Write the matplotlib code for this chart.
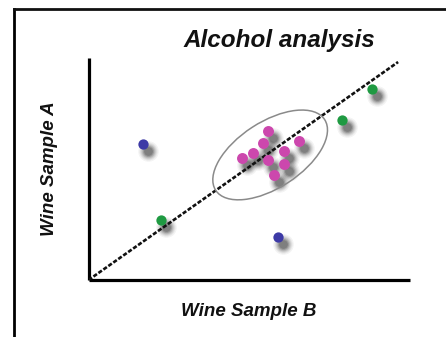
import matplotlib
matplotlib.use("Agg")
import matplotlib.pyplot as plt
from matplotlib.patches import Ellipse
from matplotlib.lines import Line2D
import matplotlib.transforms as mtransforms

plt.rcParams['font.family'] = ['Liberation Sans', 'DejaVu Sans']

# Data (Wine Sample B on x, Wine Sample A on y)
blue_x = [16.95, 58.9]
blue_y = [42.3, 13.4]
green_x = [22.5, 78.8, 88.2]
green_y = [18.7, 49.8, 59.4]
pink_x = [55.8, 54.3, 51.2, 47.7, 55.8, 60.8, 60.8, 65.5, 57.7]
pink_y = [46.3, 42.6, 39.5, 37.9, 37.3, 40.1, 36.1, 43.2, 32.7]
line_x = [0, 96.3]
line_y = [0, 67.8]
ellipse_center = (56.5, 38.9)
ellipse_size = (40.4, 20.5)
ellipse_angle = 33

title = "Alcohol analysis"
xlabel = "Wine Sample B"
ylabel = "Wine Sample A"

W, H = 446, 337
fig = plt.figure(figsize=(W / 100, H / 100), dpi=100)
fig.patch.set_facecolor('white')

ax = fig.add_axes([88.5 / W, 1 - 280 / H, (410 - 88.5) / W, (280 - 58) / H])
ax.set_xlim(0, 100)
ax.set_ylim(0, 100 * 222 / 321.5)
ax.set_facecolor('none')
for s in ['top', 'right']:
    ax.spines[s].set_visible(False)
for s in ['left', 'bottom']:
    ax.spines[s].set_linewidth(2.3)
    ax.spines[s].set_color('black')
    ax.spines[s].set_capstyle('butt')
ax.set_xticks([])
ax.set_yticks([])

# blurred shadows
shadow_tr = mtransforms.offset_copy(ax.transData, fig=fig, x=5, y=-7, units='dots')
allx = blue_x + green_x + pink_x
ally = blue_y + green_y + pink_y
for size, alpha in [(220, 0.05), (170, 0.07), (130, 0.10), (95, 0.14), (65, 0.20), (40, 0.25)]:
    ax.scatter(allx, ally, s=size, color='#2a2a2a', alpha=alpha, lw=0,
               transform=shadow_tr, zorder=2)

ax.plot(line_x, line_y, color='#111111', lw=1.9, linestyle=(0, (1.6, 0.7)), zorder=3)
ax.add_patch(Ellipse(ellipse_center, ellipse_size[0], ellipse_size[1], angle=ellipse_angle,
                     fill=False, edgecolor='#8a8a8a', lw=1.1, zorder=3))

ax.scatter(blue_x, blue_y, s=55, color='#3d3aa6', lw=0, zorder=4)
ax.scatter(green_x, green_y, s=55, color='#1f9a42', lw=0, zorder=4)
ax.scatter(pink_x, pink_y, s=62, color='#cc47ad', lw=0, zorder=4)

fig.text(279.5 / W, 1 - 40 / H, title, ha='center', va='center', fontsize=17.5,
         fontweight='bold', fontstyle='italic', color='#111111')
fig.text(249 / W, 1 - 312 / H, xlabel, ha='center', va='center', fontsize=13.5,
         fontweight='bold', fontstyle='italic', color='#111111')
fig.text(50 / W, 1 - 169 / H, ylabel, ha='center', va='center', fontsize=13.5,
         fontweight='bold', fontstyle='italic', color='#111111', rotation=90)

# outer frame (left and top)
fig.add_artist(Line2D([13.5 / W, 13.5 / W], [0, 1 - 8.5 / H], transform=fig.transFigure,
                      color='black', lw=2.0, solid_capstyle='projecting'))
fig.add_artist(Line2D([13.5 / W, 1], [1 - 9 / H, 1 - 9 / H], transform=fig.transFigure,
                      color='#111111', lw=2.0, solid_capstyle='projecting'))

fig.savefig('out.png', dpi=100)
